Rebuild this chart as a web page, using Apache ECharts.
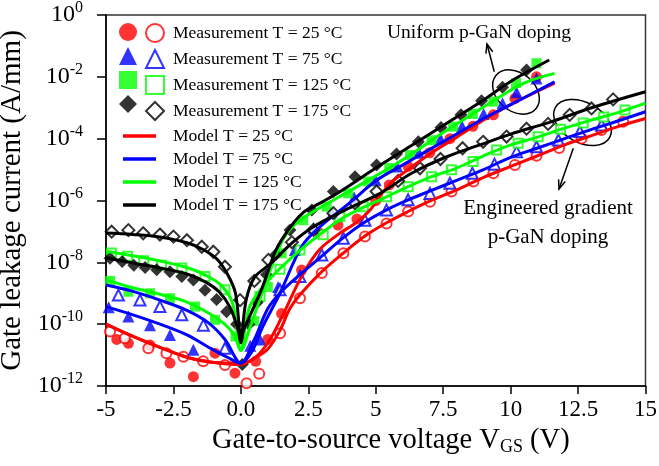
<!DOCTYPE html>
<html>
<head>
<meta charset="utf-8">
<script src="https://cdn.jsdelivr.net/npm/echarts@6/dist/echarts.min.js"></script>
<style>
html,body{margin:0;padding:0;background:#fff;}
#chart{width:659px;height:466px;}
</style>
</head>
<body>
<div id="chart"></div>
<script>
// ---------- DATA (V_GS in V, current in A/mm) ----------
const xTickLabels = {'-5':'-5','-2.5':'-2.5','0':'0.0','2.5':'2.5','5':'5','7.5':'7.5','10':'10','12.5':'12.5','15':'15'};
const yTickExponents = ['0','-2','-4','-6','-8','-10','-12'];
const temps = ['25', '75', '125', '175'];

// Measurements, uniform p-GaN doping (filled markers)
const measUniform25 = [[-4.6,3.2e-11],[-4.17,2.4e-11],[-3.37,2.1e-11],[-2.63,5.5e-12],[-1.76,2.0e-12],[-0.96,1.15e-11],[-0.22,2.6e-12],[0.55,6.3e-12],[1.0,3.2e-11],[1.51,2.2e-10],[2.25,5.6e-9],[2.93,8.7e-8],[3.6,1.6e-7],[4.3,2.5e-7],[5.0,1.0e-6],[5.5,3.2e-6],[6.2,1.26e-5],[7.0,3.5e-5],[7.75,1.0e-4],[8.6,2.5e-4],[9.36,5.9e-4],[10.16,2.0e-3],[10.96,1.0e-2]];
const measUniform75 = [[-4.9,3.5e-10],[-4.17,1.78e-10],[-3.37,9.3e-11],[-2.63,4.5e-11],[-1.76,1.48e-11],[0.35,2.0e-11],[0.71,3.2e-11],[1.38,1.58e-9],[2.0,2.5e-8],[2.7,1.26e-7],[3.4,4.0e-7],[4.2,1.26e-6],[5.0,4.5e-6],[5.8,1.26e-5],[6.6,3.5e-5],[7.4,1.0e-4],[8.2,2.5e-4],[9.0,6.3e-4],[9.7,1.4e-3],[10.22,3.2e-3],[10.96,8.9e-3]];
const measUniform125 = [[-4.85,2.5e-9],[-4.17,1.12e-9],[-3.37,1.0e-9],[-2.63,6.9e-10],[-1.7,3.7e-10],[-0.96,1.38e-10],[-0.2,4.0e-11],[0.5,1.26e-10],[1.0,1.58e-9],[1.51,1.95e-8],[2.31,2.3e-7],[3.18,6.3e-7],[3.98,1.7e-6],[4.72,4.1e-6],[5.5,1.12e-5],[6.27,2.95e-5],[7.07,8.9e-5],[7.87,2.45e-4],[8.6,6.3e-4],[9.36,1.58e-3],[10.2,6.3e-3],[10.96,2.75e-2]];
const measUniform175 = [[-4.85,1.35e-8],[-4.4,1.07e-8],[-3.97,8.1e-9],[-3.55,6.8e-9],[-3.12,5.8e-9],[-2.63,5.0e-9],[-2.19,3.5e-9],[-1.76,2.7e-9],[-1.33,1.26e-9],[-0.9,6.3e-10],[-0.53,2.5e-10],[-0.16,1.0e-10],[0.05,5.0e-12],[0.3,1.0e-10],[0.6,5.0e-10],[0.95,4.0e-9],[1.3,1.78e-8],[1.82,1.12e-7],[2.63,4.9e-7],[3.43,1.95e-6],[4.23,5.9e-6],[5.03,1.41e-5],[5.77,3.2e-5],[6.58,7.9e-5],[7.42,2.3e-4],[8.16,5.9e-4],[8.92,1.7e-3],[9.7,4.6e-3],[10.59,1.66e-2]];

// Measurements, engineered gradient p-GaN doping (open markers)
const measGradient25 = [[-4.85,5.8e-11],[-4.3,3.5e-11],[-3.43,1.66e-11],[-2.76,1.15e-11],[-2.13,8.9e-12],[-1.4,6.3e-12],[-0.59,4.8e-12],[0.21,1.23e-12],[0.68,2.5e-12],[1.45,5.1e-11],[2.19,6.9e-10],[3.0,4.5e-9],[3.8,1.95e-8],[4.6,6.8e-8],[5.4,1.8e-7],[6.2,4.4e-7],[7.01,9.1e-7],[7.81,1.95e-6],[8.62,4.1e-6],[9.36,7.6e-6],[10.16,1.41e-5],[10.96,2.8e-5],[11.8,5.0e-5],[12.63,1.02e-4],[13.37,1.9e-4],[14.17,3.5e-4]];
const measGradient75 = [[-4.54,8.7e-10],[-3.74,6.0e-10],[-3.0,3.7e-10],[-2.19,2.0e-10],[-1.39,9.3e-11],[-0.59,1.66e-11],[1.45,1.29e-9],[2.19,3.5e-9],[3.0,1.74e-8],[3.8,6.0e-8],[4.6,2.3e-7],[5.4,4.9e-7],[6.2,1.05e-6],[7.01,1.7e-6],[7.75,3.6e-6],[8.58,7.6e-6],[9.4,1.5e-5],[10.22,3.8e-5],[10.96,5.5e-5],[11.77,9.1e-5],[12.57,1.7e-4],[13.37,2.75e-4]];
const measGradient125 = [[-4.8,2.0e-8],[-4.2,1.58e-8],[-3.6,1.12e-8],[-2.94,8.1e-9],[-2.19,6.5e-9],[-1.33,3.5e-9],[-0.59,1.29e-9],[0.71,7.8e-10],[1.45,6.0e-9],[2.19,2.5e-8],[3.05,7.8e-8],[3.67,3.0e-7],[4.54,6.3e-7],[5.4,1.32e-6],[6.2,2.8e-6],[7.07,5.9e-6],[7.81,9.8e-6],[8.61,1.82e-5],[9.48,4.3e-5],[10.28,7.1e-5],[11.02,1.15e-4],[11.85,2.0e-4],[12.69,3.2e-4],[13.45,5.0e-4],[14.24,8.5e-4]];
const measGradient175 = [[-4.79,9.8e-8],[-4.17,1.1e-7],[-3.62,8.7e-8],[-3.0,7.9e-8],[-2.5,6.8e-8],[-2.0,5.2e-8],[-1.45,3.2e-8],[-1.02,2.2e-8],[-0.59,7.2e-9],[-0.03,6.0e-10],[0.5,2.5e-9],[1.02,1.2e-8],[1.89,4.5e-8],[2.69,1.12e-7],[3.43,3.9e-7],[4.23,8.1e-7],[5.03,1.95e-6],[5.83,4.3e-6],[6.64,1.1e-5],[7.4,2.2e-5],[8.22,4.9e-5],[8.98,7.9e-5],[9.85,1.17e-4],[10.59,2.1e-4],[11.39,3.0e-4],[12.19,5.9e-4],[13.0,9.5e-4],[13.8,1.86e-3]];

// Model curves
const modelUniform25 = [[-5,1.0e-10],[-4,4.0e-11],[-3,1.78e-11],[-2,8.5e-12],[-1,5.8e-12],[0,5.5e-12],[0.5,7.9e-12],[1,2.5e-11],[1.5,1.58e-10],[2.25,3.5e-9],[2.9,2.5e-8],[3.6,7.9e-8],[4.3,2.0e-7],[4.8,5.0e-7],[5.2,1.58e-6],[5.6,4.0e-6],[6.2,1.0e-5],[7,3.2e-5],[8,1.12e-4],[9,4.0e-4],[10,1.26e-3],[11.63,6.2e-3]];
const modelUniform75 = [[-5,3.7e-10],[-4,2.0e-10],[-3,1.0e-10],[-2,4.5e-11],[-1.2,1.8e-11],[-0.5,8.5e-12],[0,5.5e-12],[0.4,1.26e-11],[0.8,7.9e-11],[1.45,1.0e-9],[2.25,3.2e-8],[2.93,1.41e-7],[4,7.9e-7],[5.03,4.5e-6],[6,1.41e-5],[7,4.5e-5],[8,1.41e-4],[9,4.5e-4],[10,1.26e-3],[11.63,6.9e-3]];
const modelUniform125 = [[-5,2.7e-9],[-4,1.5e-9],[-3,9.3e-10],[-2,5.2e-10],[-1.2,2.3e-10],[-0.6,1.0e-10],[-0.25,4.5e-11],[0,1.41e-11],[0.3,6.3e-11],[0.7,6.3e-10],[1.2,1.0e-8],[1.6,6.3e-8],[2.1,2.0e-7],[2.8,5.0e-7],[3.5,1.12e-6],[4.5,3.5e-6],[5.5,1.12e-5],[6.5,4.0e-5],[7.5,1.58e-4],[8.5,5.6e-4],[9.5,2.0e-3],[10.5,6.3e-3],[11.63,1.29e-2]];
const modelUniform175 = [[-5,1.41e-8],[-4,9.5e-9],[-3,6.6e-9],[-2,4.2e-9],[-1.3,2.3e-9],[-0.8,1.1e-9],[-0.4,3.5e-10],[-0.1,6.3e-11],[0,2.5e-11],[0.1,6.3e-11],[0.4,2.5e-10],[0.8,1.58e-9],[1.3,2.5e-8],[1.8,1.26e-7],[2.3,4.0e-7],[2.9,7.9e-7],[3.7,2.0e-6],[5,1.12e-5],[6,4.0e-5],[7,1.41e-4],[8,5.0e-4],[9,1.78e-3],[10,7.1e-3],[11.43,3.5e-2]];
const modelGradient25 = [[-5,1.0e-10],[-4,4.0e-11],[-3,1.78e-11],[-2,8.5e-12],[-1,5.8e-12],[0,5.0e-12],[0.5,7.9e-12],[1.0,1.58e-11],[1.45,6.3e-11],[1.82,3.2e-10],[2.19,8.9e-10],[3.0,5.0e-9],[3.8,2.0e-8],[4.6,7.1e-8],[5.4,1.9e-7],[6.2,4.4e-7],[7.0,9.5e-7],[8,2.2e-6],[9,5.6e-6],[10,1.26e-5],[11,2.8e-5],[12,6.3e-5],[13,1.26e-4],[14,2.5e-4],[15,4.5e-4]];
const modelGradient75 = [[-5,1.86e-9],[-4,1.15e-9],[-3,6.0e-10],[-2,2.8e-10],[-1.2,1.1e-10],[-0.59,3.2e-11],[0,5.5e-12],[0.5,3.2e-11],[1,3.2e-10],[1.5,1.12e-9],[2.19,4.0e-9],[3.0,1.58e-8],[3.8,6.3e-8],[4.6,2.0e-7],[5.4,5.0e-7],[6.2,1.05e-6],[7.0,2.0e-6],[8,4.5e-6],[9,1.0e-5],[10,2.5e-5],[11,5.0e-5],[12,1.0e-4],[13,2.0e-4],[14,3.8e-4],[15,7.4e-4]];
const modelGradient125 = [[-5,2.3e-8],[-4,1.62e-8],[-3,1.1e-8],[-2,6.8e-9],[-1.3,3.8e-9],[-0.7,1.7e-9],[-0.3,4.5e-10],[0,1.41e-11],[0.3,3.2e-10],[0.8,1.58e-9],[1.45,6.3e-9],[2.2,2.5e-8],[3.0,8.9e-8],[3.8,2.8e-7],[4.6,6.3e-7],[5.4,1.32e-6],[6.2,2.8e-6],[7.0,5.6e-6],[8,1.12e-5],[9,2.8e-5],[10,6.3e-5],[11,1.12e-4],[12,2.2e-4],[13,4.0e-4],[14,7.1e-4],[15,1.41e-3]];
const modelGradient175 = [[-5,8.9e-8],[-4,8.0e-8],[-3,6.6e-8],[-2,4.3e-8],[-1.4,2.6e-8],[-0.9,1.3e-8],[-0.5,4.2e-9],[-0.2,1.0e-9],[0,4.0e-11],[0.2,6.3e-10],[0.5,3.2e-9],[1.09,8.9e-9],[1.89,4.2e-8],[2.69,1.41e-7],[3.86,4.9e-7],[5.16,1.7e-6],[6.33,7.6e-6],[7.63,2.6e-5],[8.86,6.3e-5],[10,1.41e-4],[11.5,3.5e-4],[13,1.0e-3],[15,3.3e-3]];

// ---------- STYLE ----------
const FONT = 'Liberation Serif';
const colors = {'25':'#ff0000','75':'#0000ff','125':'#00ff00','175':'#000000'};
const symbols = {'25':'circle','75':'triangle','125':'rect','175':'diamond'};
const symSize = {'25':11,'75':12,'125':10,'175':13};

const measU = {'25':measUniform25,'75':measUniform75,'125':measUniform125,'175':measUniform175};
const measG = {'25':measGradient25,'75':measGradient75,'125':measGradient125,'175':measGradient175};
const modU = {'25':modelUniform25,'75':modelUniform75,'125':modelUniform125,'175':modelUniform175};
const modG = {'25':modelGradient25,'75':modelGradient75,'125':modelGradient125,'175':modelGradient175};

const series = [];
temps.forEach(t => {
  series.push({
    name: 'Uniform T = ' + t + ' °C', type: 'scatter', data: measU[t],
    symbol: symbols[t], symbolSize: symSize[t],
    itemStyle: {color: colors[t]}, z: 3
  });
  series.push({
    name: 'Measurement T = ' + t + ' °C', type: 'scatter', data: measG[t],
    symbol: symbols[t], symbolSize: symSize[t] - 1,
    itemStyle: {color: '#ffffff', borderColor: colors[t], borderWidth: 2}, z: 3
  });
});
temps.forEach(t => {
  [modU[t], modG[t]].forEach(d => {
    series.push({
      name: 'Model T = ' + t + ' °C', type: 'line', data: d, symbol: 'none',
      smooth: 0.35,
      lineStyle: {color: colors[t], width: 3}, itemStyle: {color: colors[t]}, z: 4
    });
  });
});

const chart = echarts.init(document.getElementById('chart'), null, {renderer: 'canvas'});

const legendText = {fontFamily: FONT, fontSize: 17.5, color: '#000', lineHeight: 18};

function arrowHead(pts) {
  return {type: 'polyline', shape: {points: pts}, style: {stroke: '#000', lineWidth: 1.5, fill: null}, silent: true};
}

chart.setOption({
  animation: false,
  backgroundColor: '#ffffff',
  grid: {left: 106, right: 13.5, top: 15, bottom: 80, containLabel: false, outerBoundsMode: 'none',
    show: true, borderColor: '#333', borderWidth: 1.5, backgroundColor: 'transparent'},
  xAxis: {
    type: 'value', min: -5, max: 15, interval: 2.5,
    axisLine: {onZero: false, lineStyle: {color: '#000', width: 1.5}},
    axisTick: {length: 8, lineStyle: {color: '#000', width: 1.5}},
    splitLine: {show: false},
    axisLabel: {fontFamily: FONT, fontSize: 23, color: '#000', margin: 12,
      formatter: v => xTickLabels[String(v)] !== undefined ? xTickLabels[String(v)] : String(v)},
    name: '{t|Gate-to-source voltage V}{sub|GS}{t| (V)}',
    nameLocation: 'middle', nameGap: 36,
    nameTextStyle: {padding: [0, 0, 0, 30], rich: {
      t: {fontFamily: FONT, fontSize: 28.5, color: '#000'},
      sub: {fontFamily: FONT, fontSize: 18, color: '#000', padding: [14, 0, 0, 0]}
    }}
  },
  yAxis: {
    type: 'log', logBase: 10, min: 1e-12, max: 1, interval: 2,
    axisLine: {onZero: false, lineStyle: {color: '#000', width: 1.5}},
    axisTick: {show: true, inside: false, length: 9, lineStyle: {color: '#000', width: 1.5}},
    minorTick: {show: false},
    splitLine: {show: false},
    axisLabel: {margin: 23,
      formatter: v => {
        const e = String(Math.round(Math.log10(v)));
        const lab = yTickExponents.indexOf(e) >= 0 ? e : e;
        return '{b|10}{s|' + lab + '}';
      },
      rich: {
        b: {fontFamily: FONT, fontSize: 24, color: '#000'},
        s: {fontFamily: FONT, fontSize: 16, color: '#000', padding: [0, 0, 14, 0]}
      }
    },
    name: 'Gate leakage current (A/mm)',
    nameLocation: 'middle', nameGap: 70,
    nameTextStyle: {fontFamily: FONT, fontSize: 29, color: '#000'}
  },
  legend: [
    {
      data: temps.map(t => 'Uniform T = ' + t + ' °C'),
      orient: 'vertical', left: 114, top: 18, itemWidth: 18, itemHeight: 18, itemGap: 6,
      formatter: () => '', textStyle: legendText, selectedMode: false
    },
    {
      data: temps.map(t => 'Measurement T = ' + t + ' °C'),
      orient: 'vertical', left: 140, top: 18, itemWidth: 18, itemHeight: 18, itemGap: 6,
      textStyle: Object.assign({padding: [0, 0, 0, 4]}, legendText), selectedMode: false
    },
    {
      data: temps.map(t => ({name: 'Model T = ' + t + ' °C', icon: 'rect'})),
      orient: 'vertical', left: 118, top: 122, itemWidth: 33, itemHeight: 3.5, itemGap: 5,
      textStyle: Object.assign({padding: [0, 0, 0, 12]}, legendText), selectedMode: false
    }
  ],
  graphic: [
    {type: 'text', x: 479, y: 33, silent: true,
      style: {text: 'Uniform p-GaN doping', fontFamily: FONT, fontSize: 19.5, fill: '#000', align: 'center', verticalAlign: 'middle'}},
    {type: 'line', silent: true, shape: {x1: 494.3, y1: 71.7, x2: 487, y2: 44}, style: {stroke: '#000', lineWidth: 1.5}},
    arrowHead([[492.7, 51.8], [487, 44], [485.9, 53.6]]),
    {type: 'ellipse', silent: true, x: 516, y: 92, rotation: -0.7, shape: {cx: 0, cy: 0, rx: 26, ry: 19},
      style: {stroke: '#000', lineWidth: 1.5, fill: null}},
    {type: 'ellipse', silent: true, x: 582.5, y: 122.5, rotation: -0.5, shape: {cx: 0, cy: 0, rx: 31, ry: 20},
      style: {stroke: '#000', lineWidth: 1.5, fill: null}},
    {type: 'line', silent: true, shape: {x1: 573.3, y1: 148.3, x2: 559, y2: 189}, style: {stroke: '#000', lineWidth: 1.5}},
    arrowHead([[565.2, 181.6], [559, 189], [558.6, 179.4]]),
    {type: 'text', x: 548, y: 208, silent: true,
      style: {text: 'Engineered gradient', fontFamily: FONT, fontSize: 21, fill: '#000', align: 'center', verticalAlign: 'middle'}},
    {type: 'text', x: 548, y: 237, silent: true,
      style: {text: 'p-GaN doping', fontFamily: FONT, fontSize: 21, fill: '#000', align: 'center', verticalAlign: 'middle'}}
  ],
  series: series
});
</script>
</body>
</html>
